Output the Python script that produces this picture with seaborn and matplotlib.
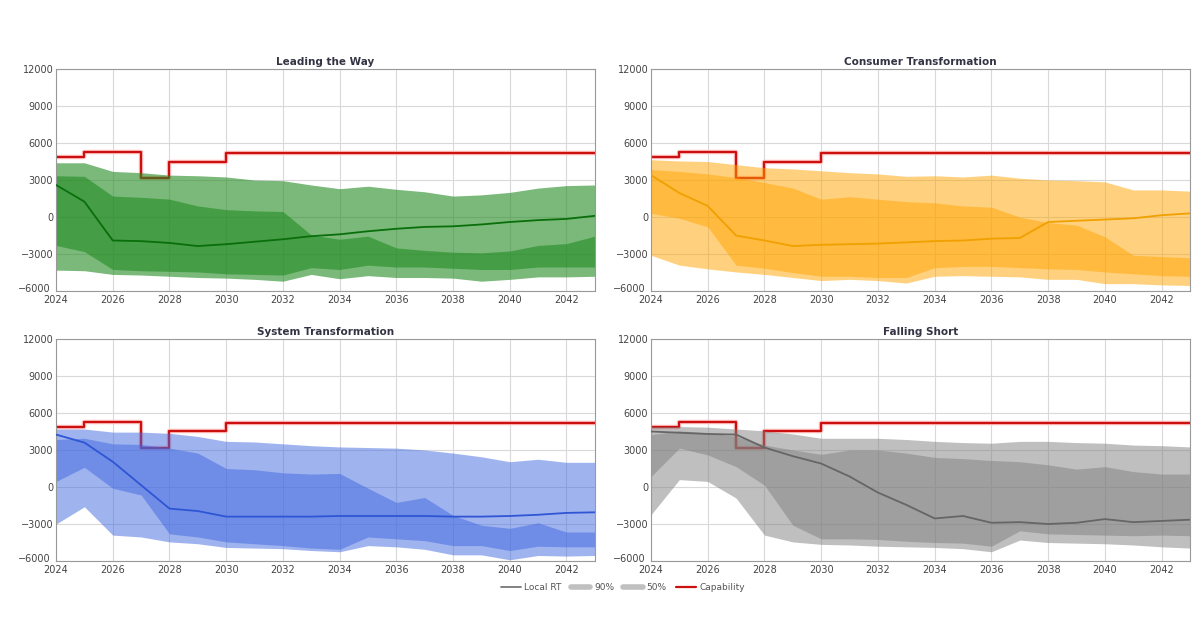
import numpy as np
import pandas as pd
import matplotlib
matplotlib.use("Agg")
import matplotlib.pyplot as plt
import matplotlib.transforms as mtransforms
from matplotlib.lines import Line2D
import seaborn as sns

years = list(range(2024, 2044))

cap_years = [2024, 2025, 2027, 2028, 2030, 2043]
cap_values = [4900, 5300, 3200, 4500, 5200, 5200]

# Leading the Way
lw_median = [2600, 1250, -1900, -1950, -2100, -2350, -2200, -2000, -1800, -1550, -1400, -1150, -950, -800, -750, -600, -400, -250, -150, 100]
lw_90_hi = [4400, 4400, 3700, 3600, 3400, 3350, 3250, 3000, 2950, 2600, 2300, 2500, 2250, 2050, 1700, 1800, 2000, 2350, 2550, 2600]
lw_90_lo = [-4300, -4350, -4650, -4700, -4800, -4900, -4950, -5050, -5200, -4650, -5000, -4750, -4900, -4900, -4950, -5200, -5050, -4850, -4850, -4800]
lw_50_hi = [3350, 3300, 1700, 1600, 1450, 900, 600, 500, 450, -1450, -1800, -1550, -2500, -2700, -2850, -2900, -2750, -2300, -2150, -1550]
lw_50_lo = [-2300, -2800, -4250, -4350, -4400, -4450, -4600, -4650, -4700, -4100, -4250, -3900, -4050, -4050, -4150, -4250, -4250, -4050, -4050, -4050]

# Consumer Transformation
ct_median = [3400, 1950, 900, -1500, -1900, -2350, -2250, -2200, -2150, -2050, -1950, -1900, -1750, -1700, -400, -300, -200, -100, 150, 300]
ct_90_hi = [4650, 4550, 4500, 4250, 4000, 3900, 3750, 3600, 3500, 3300, 3350, 3250, 3400, 3150, 3000, 2950, 2850, 2200, 2200, 2100]
ct_90_lo = [-3100, -3900, -4200, -4450, -4650, -4900, -5150, -5050, -5150, -5350, -4800, -4750, -4800, -4850, -5050, -5050, -5400, -5400, -5500, -5550]
ct_50_hi = [3850, 3700, 3500, 3200, 2800, 2350, 1450, 1650, 1450, 1250, 1150, 900, 800, 0, -450, -650, -1600, -3100, -3200, -3300]
ct_50_lo = [300, -100, -800, -3900, -4150, -4500, -4800, -4800, -4900, -4900, -4100, -4000, -4000, -4100, -4200, -4250, -4450, -4600, -4750, -4800]

# System Transformation
st_median = [4250, 3600, 2050, 150, -1750, -1950, -2400, -2400, -2400, -2400, -2350, -2350, -2350, -2350, -2400, -2400, -2350, -2250, -2100, -2050]
st_90_hi = [4700, 4700, 4450, 4450, 4350, 4100, 3700, 3650, 3500, 3350, 3250, 3200, 3150, 3000, 2750, 2450, 2050, 2250, 2000, 2000]
st_90_lo = [-3000, -1600, -3900, -4050, -4450, -4600, -4900, -4950, -5000, -5150, -5250, -4750, -4850, -5050, -5500, -5500, -5900, -5550, -5600, -5550]
st_50_hi = [3850, 3950, 3500, 3450, 3150, 2750, 1500, 1400, 1150, 1050, 1100, -100, -1250, -850, -2300, -3100, -3350, -2900, -3650, -3650]
st_50_lo = [450, 1600, -100, -650, -3800, -4050, -4450, -4600, -4750, -4950, -5050, -4050, -4200, -4350, -4750, -4750, -5150, -4800, -4850, -4850]

# Falling Short
fs_median = [4500, 4400, 4300, 4250, 3200, 2500, 1900, 850, -450, -1450, -2550, -2350, -2900, -2850, -3000, -2900, -2600, -2850, -2750, -2650]
fs_90_hi = [4900, 4900, 4850, 4700, 4550, 4300, 3950, 3950, 3950, 3850, 3700, 3600, 3550, 3700, 3700, 3600, 3550, 3400, 3350, 3250]
fs_90_lo = [-2250, 600, 450, -900, -3900, -4450, -4650, -4700, -4800, -4850, -4900, -5000, -5250, -4300, -4500, -4550, -4600, -4700, -4850, -4950]
fs_50_hi = [4250, 4550, 4400, 4100, 3400, 3000, 2650, 3000, 3000, 2750, 2400, 2300, 2150, 2050, 1800, 1450, 1650, 1250, 1050, 1050]
fs_50_lo = [850, 3150, 2600, 1650, 150, -3100, -4200, -4200, -4250, -4400, -4500, -4550, -4800, -3550, -3800, -3850, -3900, -3950, -3900, -3950]

scenarios = [
    ("Leading the Way", lw_median, lw_90_lo, lw_90_hi, lw_50_lo, lw_50_hi, "#228b22", "#0a6e0a", 0.6),
    ("Consumer Transformation", ct_median, ct_90_lo, ct_90_hi, ct_50_lo, ct_50_hi, "#ffa500", "#f0a000", 0.5),
    ("System Transformation", st_median, st_90_lo, st_90_hi, st_50_lo, st_50_hi, "#4169e1", "#2f55d4", 0.5),
    ("Falling Short", fs_median, fs_90_lo, fs_90_hi, fs_50_lo, fs_50_hi, "#808080", "#666666", 0.5),
]

sns.set_style("whitegrid")
plt.rcParams["font.family"] = ["DejaVu Sans"]

fig = plt.figure(figsize=(12, 6.18), dpi=100)
positions = [
    [0.0467, 0.529, 0.449, 0.3593],
    [0.5425, 0.529, 0.4492, 0.3593],
    [0.0467, 0.0922, 0.449, 0.3593],
    [0.5425, 0.0922, 0.4492, 0.3593],
]

for pos, (title, med, lo90, hi90, lo50, hi50, col, lcol, alpha) in zip(positions, scenarios):
    ax = fig.add_axes(pos)
    ax.step(cap_years, cap_values, where="post", color="#ffc0c0", lw=3.2, zorder=1)
    ax.step(cap_years, cap_values, where="post", color="#cc1010", lw=1.6, zorder=1.1)
    ax.fill_between(years, lo90, hi90, color=col, alpha=alpha, lw=0, zorder=2)
    ax.fill_between(years, lo50, hi50, color=col, alpha=alpha, lw=0, zorder=2.1)
    df = pd.DataFrame({"year": years, "value": med})
    sns.lineplot(data=df, x="year", y="value", ax=ax, color=lcol, lw=1.3, zorder=3)
    ax.set_xlim(2024, 2043)
    ax.set_ylim(-6000, 12000)
    ax.set_xticks(range(2024, 2043, 2))
    ax.set_yticks(range(-6000, 12001, 3000))
    ax.set_xlabel("")
    ax.set_ylabel("")
    ax.grid(True, color="#d9d9d9", lw=0.8)
    ax.set_axisbelow(True)
    ax.tick_params(axis="both", labelsize=7, colors="#444444", length=0, pad=2)
    ax.tick_params(axis="x", pad=3)
    for s in ax.spines.values():
        s.set_color("#999999")
        s.set_linewidth(0.8)
    ax.set_title(title, fontsize=7.5, fontweight="bold", color="#333344", pad=3)
    # nudge the lowest y label slightly so it clears the first x label
    fig.canvas.draw()
    lowest = ax.get_yticklabels()[0]
    lowest.set_transform(lowest.get_transform() +
                         mtransforms.ScaledTranslation(-2 / 72, 2 / 72, fig.dpi_scale_trans))

handles = [
    Line2D([], [], color="#777777", lw=1.3),
    Line2D([], [], color="#c0c0c0", lw=4),
    Line2D([], [], color="#c0c0c0", lw=4),
    Line2D([], [], color="#cc1010", lw=1.6),
]
labels = ["Local RT", "90%", "50%", "Capability"]
fig.legend(handles, labels, loc="center", bbox_to_anchor=(0.519, 1 - 588 / 618), ncol=4,
           frameon=False, fontsize=6.5, handlelength=2.2, columnspacing=1.0,
           handletextpad=0.4, labelcolor="#555555")

fig.savefig("out.png", dpi=100)
